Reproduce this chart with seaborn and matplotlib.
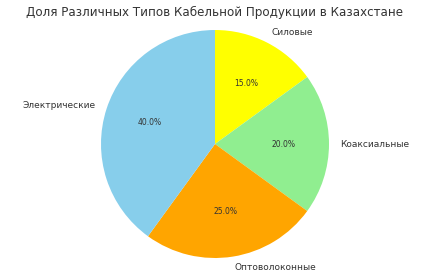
import matplotlib
matplotlib.use("Agg")
import matplotlib.pyplot as plt
import seaborn as sns

sns.set_theme(style="white")
plt.rcParams['font.family'] = ['DejaVu Sans']

categories = ["Силовые", "Коаксиальные", "Оптоволоконные", "Электрические"]
shares = [15, 20, 25, 40]
colors = ["#ffff00", "#90ee90", "#ffa500", "#87ceeb"]
title = "Доля Различных Типов Кабельной Продукции в Казахстане"

fig = plt.figure(figsize=(4.32, 2.79), dpi=100)
ax = fig.add_axes([0, 0, 1, 1])
wedges, texts, autotexts = ax.pie(
    shares, labels=categories, colors=colors, autopct="%1.1f%%",
    startangle=90, counterclock=False,
    wedgeprops={"linewidth": 0},
    textprops={"fontsize": 6.5, "color": "#333333"},
)
for t in autotexts:
    t.set_fontsize(5.5)
r = 114.0
ax.set_xlim(-215 / r, 217 / r)
ax.set_ylim(-135 / r, 144 / r)
ax.set_aspect("equal")
ax.axis("off")
fig.text(215 / 432, 1 - 12 / 279, title, fontsize=8.6, color="#333333",
         ha="center", va="center")
fig.savefig("out.png", dpi=100)
